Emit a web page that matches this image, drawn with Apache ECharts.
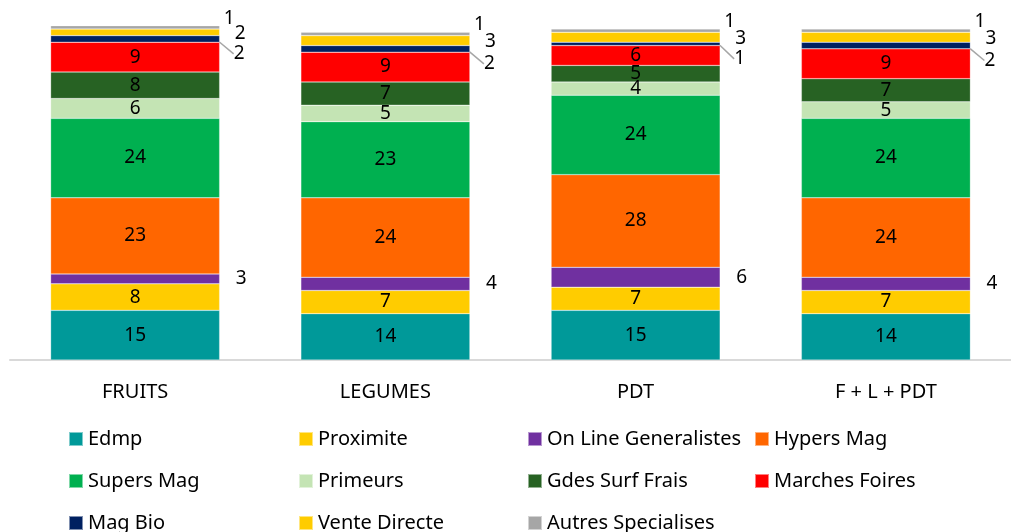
<!DOCTYPE html>
<html>
<head>
<meta charset="utf-8">
<script src="https://cdn.jsdelivr.net/npm/echarts@6/dist/echarts.min.js"></script>
<style>
  html, body { margin: 0; padding: 0; background: #fff; }
  #chart { width: 1011px; height: 532px; }
</style>
</head>
<body>
<div id="chart"></div>
<script>
// categories
const categories = ['FRUITS', 'LEGUMES', 'PDT', 'F + L + PDT'];

// parts (%) by channel, bottom to top of each stack
const edmp = [15, 14, 15, 14];
const proximite = [8, 7, 7, 7];
const onLine = [3, 4, 6, 4];
const hypers = [23, 24, 28, 24];
const supers = [24, 23, 24, 24];
const primeurs = [6, 5, 4, 5];
const gdesSurf = [8, 7, 5, 7];
const marches = [9, 9, 6, 9];
const magBio = [2, 2, 1, 2];
const venteDirecte = [2, 3, 3, 3];
const autres = [1, 1, 1, 1];

const fontFamily = '"Noto Sans", Lato, sans-serif';

// label placement for the thin segments (drawn to the right of the bar)
const inside = { show: true, position: 'inside', color: '#000', fontSize: 19, fontFamily };
const outside = (distance, dy) => ({
    show: true, position: 'right', distance, offset: [0, dy],
    color: '#000', fontSize: 19, fontFamily
});

const seriesDefs = [
    { name: 'Edmp', data: edmp, color: '#009999', label: inside },
    { name: 'Proximite', data: proximite, color: '#FFCC00', label: inside },
    { name: 'On Line Generalistes', data: onLine, color: '#7030A0', label: outside(16, 0) },
    { name: 'Hypers Mag', data: hypers, color: '#FF6600', label: inside },
    { name: 'Supers Mag', data: supers, color: '#00B050', label: inside },
    { name: 'Primeurs', data: primeurs, color: '#C4E4B4', label: inside },
    { name: 'Gdes Surf Frais', data: gdesSurf, color: '#276223', label: inside },
    { name: 'Marches Foires', data: marches, color: '#FF0000', label: inside },
    { name: 'Mag Bio', data: magBio, color: '#002060', label: outside(6, 0), layout: { dx: 8, dy: 15 } },
    { name: 'Vente Directe', data: venteDirecte, color: '#FFCC00', label: outside(15, 1) },
    { name: 'Autres Specialises', data: autres, color: '#A6A6A6', label: outside(4, -9) }
];

const series = seriesDefs.map(s => {
    const item = {
        name: s.name,
        type: 'bar',
        stack: 'total',
        barWidth: 169,
        clip: false,
        data: s.data,
        itemStyle: { color: s.color, borderColor: 'rgba(255,255,255,0.5)', borderWidth: 0.5 },
        label: s.label,
        emphasis: { disabled: true }
    };
    if (s.layout) {
        item.labelLayout = s.layout;
        item.labelLine = { show: true, lineStyle: { color: '#A6A6A6', width: 1.5 } };
    }
    return item;
});

const legendCols = [
    { left: 68, data: ['Edmp', 'Supers Mag', 'Mag Bio'] },
    { left: 298, data: ['Proximite', 'Primeurs', 'Vente Directe'] },
    { left: 527, data: ['On Line Generalistes', 'Gdes Surf Frais', 'Autres Specialises'] },
    { left: 754, data: ['Hypers Mag', 'Marches Foires'] }
];

const chart = echarts.init(document.getElementById('chart'));

const option = {
    backgroundColor: '#fff',
    animation: false,
    grid: { left: 10, top: 29, width: 1015, bottom: 172, containLabel: false },
    xAxis: {
        type: 'category',
        data: categories,
        axisTick: { show: false },
        axisLine: { lineStyle: { color: '#D9D9D9', width: 2 } },
        axisLabel: { color: '#000', fontSize: 20, fontFamily, margin: 22 }
    },
    yAxis: { type: 'value', min: 0, max: 100, show: false, splitLine: { show: false } },
    legend: legendCols.map(c => ({
        orient: 'vertical',
        left: c.left,
        top: 429,
        height: 120,
        padding: 0,
        itemWidth: 14,
        itemHeight: 14,
        itemGap: 22,
        icon: 'rect',
        selectedMode: false,
        data: c.data,
        textStyle: { color: '#000', fontSize: 20, lineHeight: 20, fontFamily, padding: [0, 0, 0, 0] }
    })),
    series
};

chart.setOption(option);
</script>
</body>
</html>
